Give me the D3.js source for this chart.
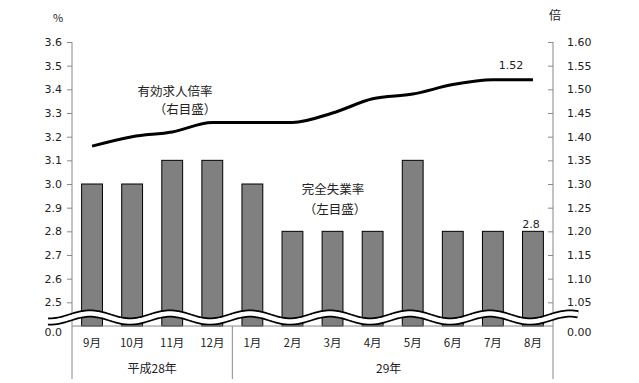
<!DOCTYPE html>
<html>
<head>
<meta charset="utf-8">
<script src="https://cdn.jsdelivr.net/npm/d3@7"></script>
<style>
  body { margin: 0; background: #fff; }
  svg text { font-family: "DejaVu Sans", Verdana, sans-serif; fill: #222; }
  .jp { font-family: "Noto Sans CJK JP", sans-serif; }
</style>
</head>
<body>
<div id="chart"></div>
<script>
var months = ["9月","10月","11月","12月","1月","2月","3月","4月","5月","6月","7月","8月"];
var years = [{label: "平成28年", from: 0, to: 4}, {label: "29年", from: 4, to: 12}];
var unemployment = [3.0, 3.0, 3.1, 3.1, 3.0, 2.8, 2.8, 2.8, 3.1, 2.8, 2.8, 2.8];
var jobRatio = [1.38, 1.40, 1.41, 1.43, 1.43, 1.43, 1.45, 1.48, 1.49, 1.51, 1.52, 1.52];
var leftTicks = [2.5, 2.6, 2.7, 2.8, 2.9, 3.0, 3.1, 3.2, 3.3, 3.4, 3.5, 3.6];
var rightTicks = [1.05, 1.10, 1.15, 1.20, 1.25, 1.30, 1.35, 1.40, 1.45, 1.50, 1.55, 1.60];

(function drawChart(){
    var margin = {top: 42, right: 86, bottom: 57, left: 72},
        width = 639 - margin.left - margin.right,
        height = 383 - margin.top - margin.bottom;

    var svg = d3.select("#chart").append("svg")
        .attr("width", 639)
        .attr("height", 383);
    var g = svg.append("g")
        .attr("transform", "translate(" + margin.left + "," + margin.top + ")");

    var x = d3.scaleBand().domain(months).range([0, width]).paddingInner(0.48).paddingOuter(0.24);
    var xc = function(i) { return x(months[i]) + x.bandwidth() / 2; };
    var yL = d3.scaleLinear().domain([2.4, 3.6]).range([height, 0]);
    var yR = d3.scaleLinear().domain([1.0, 1.6]).range([height, 0]);

    // bars
    g.selectAll(".bar")
        .data(unemployment)
      .enter().append("rect")
        .attr("class", "bar")
        .attr("x", function(d, i) { return x(months[i]); })
        .attr("width", x.bandwidth())
        .attr("y", function(d) { return yL(d); })
        .attr("height", function(d) { return height - yL(d); })
        .style("fill", "#808080")
        .style("stroke", "#000")
        .style("stroke-width", 1);

    // left axis
    var leftAxis = g.append("g")
        .call(d3.axisLeft(yL).tickValues(leftTicks).tickSize(5).tickFormat(d3.format(".1f")));
    leftAxis.select(".domain").attr("d", "M0,0V" + height).style("stroke", "#888");
    leftAxis.selectAll(".tick line").style("stroke", "#888");
    leftAxis.selectAll(".tick text").attr("x", -10).style("font-size", "11px").style("fill", "#222");

    // right axis
    var rightAxis = g.append("g")
        .attr("transform", "translate(" + width + ",0)")
        .call(d3.axisRight(yR).tickValues(rightTicks).tickSize(5).tickFormat(d3.format(".2f")));
    rightAxis.select(".domain").attr("d", "M0,0V" + height).style("stroke", "#888");
    rightAxis.selectAll(".tick line").attr("x2", -5).style("stroke", "#888");
    rightAxis.selectAll(".tick text").attr("x", 14).style("font-size", "11px").style("fill", "#222");

    // zero labels of the broken axes
    g.append("text").attr("x", -10).attr("y", height + 6).attr("dy", ".32em")
        .style("text-anchor", "end").style("font-size", "11px").text("0.0");
    g.append("text").attr("x", width + 14).attr("y", height + 6).attr("dy", ".32em")
        .style("font-size", "11px").text("0.00");

    // unit labels
    g.append("text").attr("class", "jp").attr("x", -14).attr("y", -20)
        .style("text-anchor", "middle").style("font-size", "11px").text("%");
    g.append("text").attr("class", "jp").attr("x", width + 2).attr("y", -22)
        .style("text-anchor", "middle").style("font-size", "12px").text("倍");

    // break wave (decoration across both axes)
    var wave = d3.range(-24, width + 26, 2).map(function(px) {
        return [px, height - 8.5 - 4 * Math.sin(px / 80 * 2 * Math.PI + Math.PI * 0.05)];
    });
    var waveLine = d3.line().curve(d3.curveBasis);
    g.append("path").attr("d", waveLine(wave))
        .style("fill", "none").style("stroke", "#000").style("stroke-width", 8);
    g.append("path").attr("d", waveLine(wave))
        .style("fill", "none").style("stroke", "#fff").style("stroke-width", 4.5);

    // bottom axis line
    g.append("line").attr("x1", 0).attr("x2", width).attr("y1", height).attr("y2", height)
        .style("stroke", "#888");

    // line series
    var line = d3.line()
        .x(function(d, i) { return xc(i); })
        .y(function(d) { return yR(d); })
        .curve(d3.curveMonotoneX);
    g.append("path").datum(jobRatio).attr("d", line)
        .style("fill", "none").style("stroke", "#000").style("stroke-width", 3);

    // data labels
    var last = jobRatio.length - 1;
    g.append("text").attr("x", xc(last) - 22).attr("y", yR(jobRatio[last]) - 11)
        .style("text-anchor", "middle").style("font-size", "11px").text(d3.format(".2f")(jobRatio[last]));
    g.append("text").attr("x", xc(last) - 2).attr("y", yL(unemployment[last]) - 3)
        .style("text-anchor", "middle").style("font-size", "11px").text(unemployment[last]);

    // series annotations
    var ann = [
        {t: "有効求人倍率", x: 103, y: 50},
        {t: "（右目盛）", x: 113, y: 68},
        {t: "完全失業率", x: 261, y: 148},
        {t: "（左目盛）", x: 263, y: 168}
    ];
    g.selectAll(".ann").data(ann).enter().append("text")
        .attr("class", "jp")
        .attr("x", function(d) { return d.x; })
        .attr("y", function(d) { return d.y; })
        .attr("dy", ".35em")
        .style("text-anchor", "middle")
        .style("font-size", "12.5px")
        .text(function(d) { return d.t; });

    // category labels
    g.selectAll(".month").data(months).enter().append("text")
        .attr("class", "jp")
        .attr("x", function(d, i) { return xc(i); })
        .attr("y", height + 17)
        .attr("dy", ".35em")
        .style("text-anchor", "middle")
        .style("font-size", "11.5px")
        .text(function(d) { return d; });

    var step = width / months.length;
    g.selectAll(".year").data(years).enter().append("text")
        .attr("class", "jp")
        .attr("x", function(d) { return (d.to === 12 ? (d.from + 4) : (d.from + d.to) / 2) * step - (d.to === 12 ? 4 : 0); })
        .attr("y", height + 43)
        .attr("dy", ".35em")
        .style("text-anchor", "middle")
        .style("font-size", "12px")
        .text(function(d) { return d.label; });

    var seps = [0, 4, 12];
    g.selectAll(".sep").data(seps).enter().append("line")
        .attr("x1", function(d) { return d * step; })
        .attr("x2", function(d) { return d * step; })
        .attr("y1", height)
        .attr("y2", height + 53)
        .style("stroke", "#888");
}());
</script>
</body>
</html>
